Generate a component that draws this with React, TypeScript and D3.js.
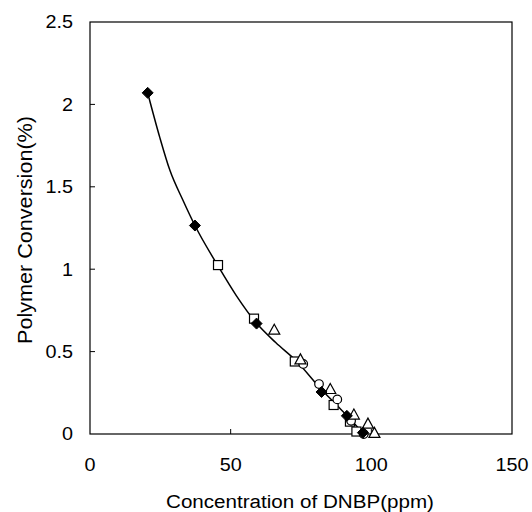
import * as d3 from "d3";
import React from "react";

const diamonds: [number, number][] = [
  [20.5, 2.07], [37.3, 1.265], [59.2, 0.67], [82.3, 0.255], [91.3, 0.11], [97.0, 0.008],
];
const squares: [number, number][] = [
  [45.5, 1.025], [58.3, 0.70], [72.8, 0.44], [86.6, 0.176], [92.4, 0.075], [94.7, 0.015],
];
const circles: [number, number][] = [
  [75.8, 0.425], [81.4, 0.303], [87.9, 0.21], [92.8, 0.08], [97.3, 0.0],
];
const triangles: [number, number][] = [
  [65.5, 0.63], [74.8, 0.45], [85.4, 0.27], [93.8, 0.115], [98.8, 0.06], [101.1, 0.004],
];
const fitCurve: [number, number][] = [
  [20.5, 2.07], [24.8, 1.80], [28.4, 1.60], [33.0, 1.42], [37.3, 1.265], [45.5, 1.02],
  [52.0, 0.84], [59.3, 0.67], [66.0, 0.555], [73.5, 0.44], [82.5, 0.265], [88.0, 0.17],
  [92.0, 0.1], [97.0, 0.005],
];
const xTicks = [0, 50, 100, 150];
const yTicks = [0, 0.5, 1, 1.5, 2, 2.5];

const W = 532;
const H = 512;
const left = 90, right = 512, top = 22, bottom = 434;

export default function App() {
  const x = d3.scaleLinear([0, 150], [left, right]);
  const y = d3.scaleLinear([0, 2.5], [bottom, top]);
  const line = d3
    .line<[number, number]>()
    .x((d) => x(d[0]))
    .y((d) => y(d[1]))
    .curve(d3.curveMonotoneX);

  const font = "Arial, 'Liberation Sans', sans-serif";
  const sx = 1.1; // the scan is a bit wider than tall

  return (
    <svg width={W} height={H} style={{ position: "absolute", left: 0, top: 0 }}>
      <rect x={0} y={0} width={W} height={H} fill="white" />
      <rect x={left} y={top} width={right - left} height={bottom - top} fill="none" stroke="black" strokeWidth={1.2} />
      {yTicks.slice(1, -1).map((t) => (
        <line key={"yt" + t} x1={left} x2={left + 5} y1={y(t)} y2={y(t)} stroke="black" />
      ))}
      {xTicks.slice(1, -1).map((t) => (
        <line key={"xt" + t} x1={x(t)} x2={x(t)} y1={bottom} y2={bottom - 5} stroke="black" />
      ))}
      <g fontFamily={font} fontSize={18} fill="black">
        {yTicks.map((t) => (
          <text
            key={"yl" + t}
            transform={`translate(${left - 17},${y(t)}) scale(${sx},1)`}
            dy="0.36em"
            textAnchor="end"
          >
            {t}
          </text>
        ))}
        {xTicks.map((t) => (
          <text
            key={"xl" + t}
            transform={`translate(${x(t)},${bottom + 31}) scale(${sx},1)`}
            dy="0.36em"
            textAnchor="middle"
          >
            {t}
          </text>
        ))}
      </g>
      <text
        x={166}
        y={508}
        fontFamily={font}
        fontSize={18}
        textLength={268}
        lengthAdjust="spacingAndGlyphs"
      >
        Concentration of DNBP(ppm)
      </text>
      <text
        transform={`translate(32,${(top + bottom) / 2 + 2}) rotate(-90)`}
        fontFamily={font}
        fontSize={20.5}
        textAnchor="middle"
        textLength={228}
        lengthAdjust="spacingAndGlyphs"
      >
        Polymer Conversion(%)
      </text>

      <path d={line(fitCurve) ?? ""} fill="none" stroke="black" strokeWidth={1.5} />

      <g fill="white" stroke="black" strokeWidth={1.2}>
        {squares.map((d, i) => (
          <rect key={"s" + i} x={x(d[0]) - 4.5} y={y(d[1]) - 4.5} width={9} height={9} />
        ))}
        {circles.map((d, i) => (
          <circle key={"c" + i} cx={x(d[0])} cy={y(d[1])} r={4.3} />
        ))}
        {triangles.map((d, i) => (
          <path key={"t" + i} d={`M${x(d[0])},${y(d[1]) - 6}l5.5,10h-11z`} />
        ))}
      </g>
      <g fill="black" stroke="black">
        {diamonds.map((d, i) => (
          <path key={"d" + i} d={`M${x(d[0])},${y(d[1]) - 5.5}l5.5,5.5l-5.5,5.5l-5.5,-5.5z`} />
        ))}
      </g>
    </svg>
  );
}
